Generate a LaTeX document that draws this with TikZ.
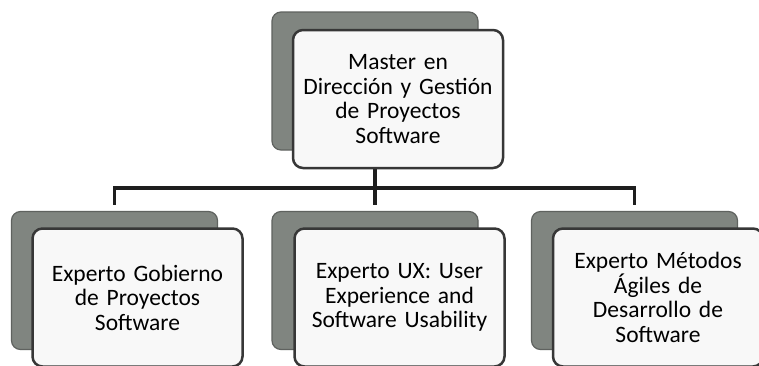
\documentclass[tikz,border=0pt]{standalone}
\usepackage{fontspec}
\setmainfont{Carlito}
\definecolor{cardgray}{RGB}{128,133,128}
\definecolor{cardedge}{RGB}{95,98,95}
\definecolor{cardwhite}{RGB}{248,248,248}
\definecolor{edgegray}{RGB}{55,55,55}
\definecolor{linkgray}{RGB}{30,30,30}
\begin{document}
\begin{tikzpicture}[x=1pt,y=-1pt,
  backcard/.style={draw=cardedge, line width=1.2pt, fill=cardgray,
    rounded corners=9pt, minimum width=206pt, minimum height=138pt,
    inner sep=0pt},
  frontcard/.style={draw=edgegray, line width=2.5pt, fill=cardwhite,
    rounded corners=10pt, minimum width=210pt, minimum height=138pt,
    text width=204pt, align=center, inner sep=0pt,
    font=\fontsize{23.5}{24.5}\selectfont},
  link/.style={draw=linkgray, line width=3.2pt}]
  % page frame
  \useasboundingbox (0,0) rectangle (759,365);
  \clip (0,0) rectangle (759,365);
  \fill[white] (0,0) rectangle (759,365);

  % back cards
  \node[backcard] (topback)   at (375,81)    {};
  \node[backcard] (leftback)  at (114.5,280.5) {};
  \node[backcard] (midback)   at (375,280.5) {};
  \node[backcard] (rightback) at (634.5,280.5) {};

  % connectors
  \coordinate (bus) at (375,188);
  \draw[link] (topback.south) -- (bus);
  \draw[link, shorten >=6pt] (bus) -| (leftback.north);
  \draw[link, shorten >=6pt] (bus) -- (midback.north);
  \draw[link, shorten >=6pt] (bus) -| (rightback.north);

  % front cards
  \node[frontcard] (top)   at (398,99)      {Master en\\Dirección y Gestión\\de Proyectos\\Software};
  \node[frontcard] (left)  at (137.5,297.5) {Experto Gobierno\\de Proyectos\\Software};
  \node[frontcard] (mid)   at (399.5,297.5) {Experto UX: User\\Experience and\\Software Usability};
  \node[frontcard] (right) at (658,297.5)   {Experto Métodos\\Ágiles de\\Desarrollo de\\Software};
\end{tikzpicture}
\end{document}
